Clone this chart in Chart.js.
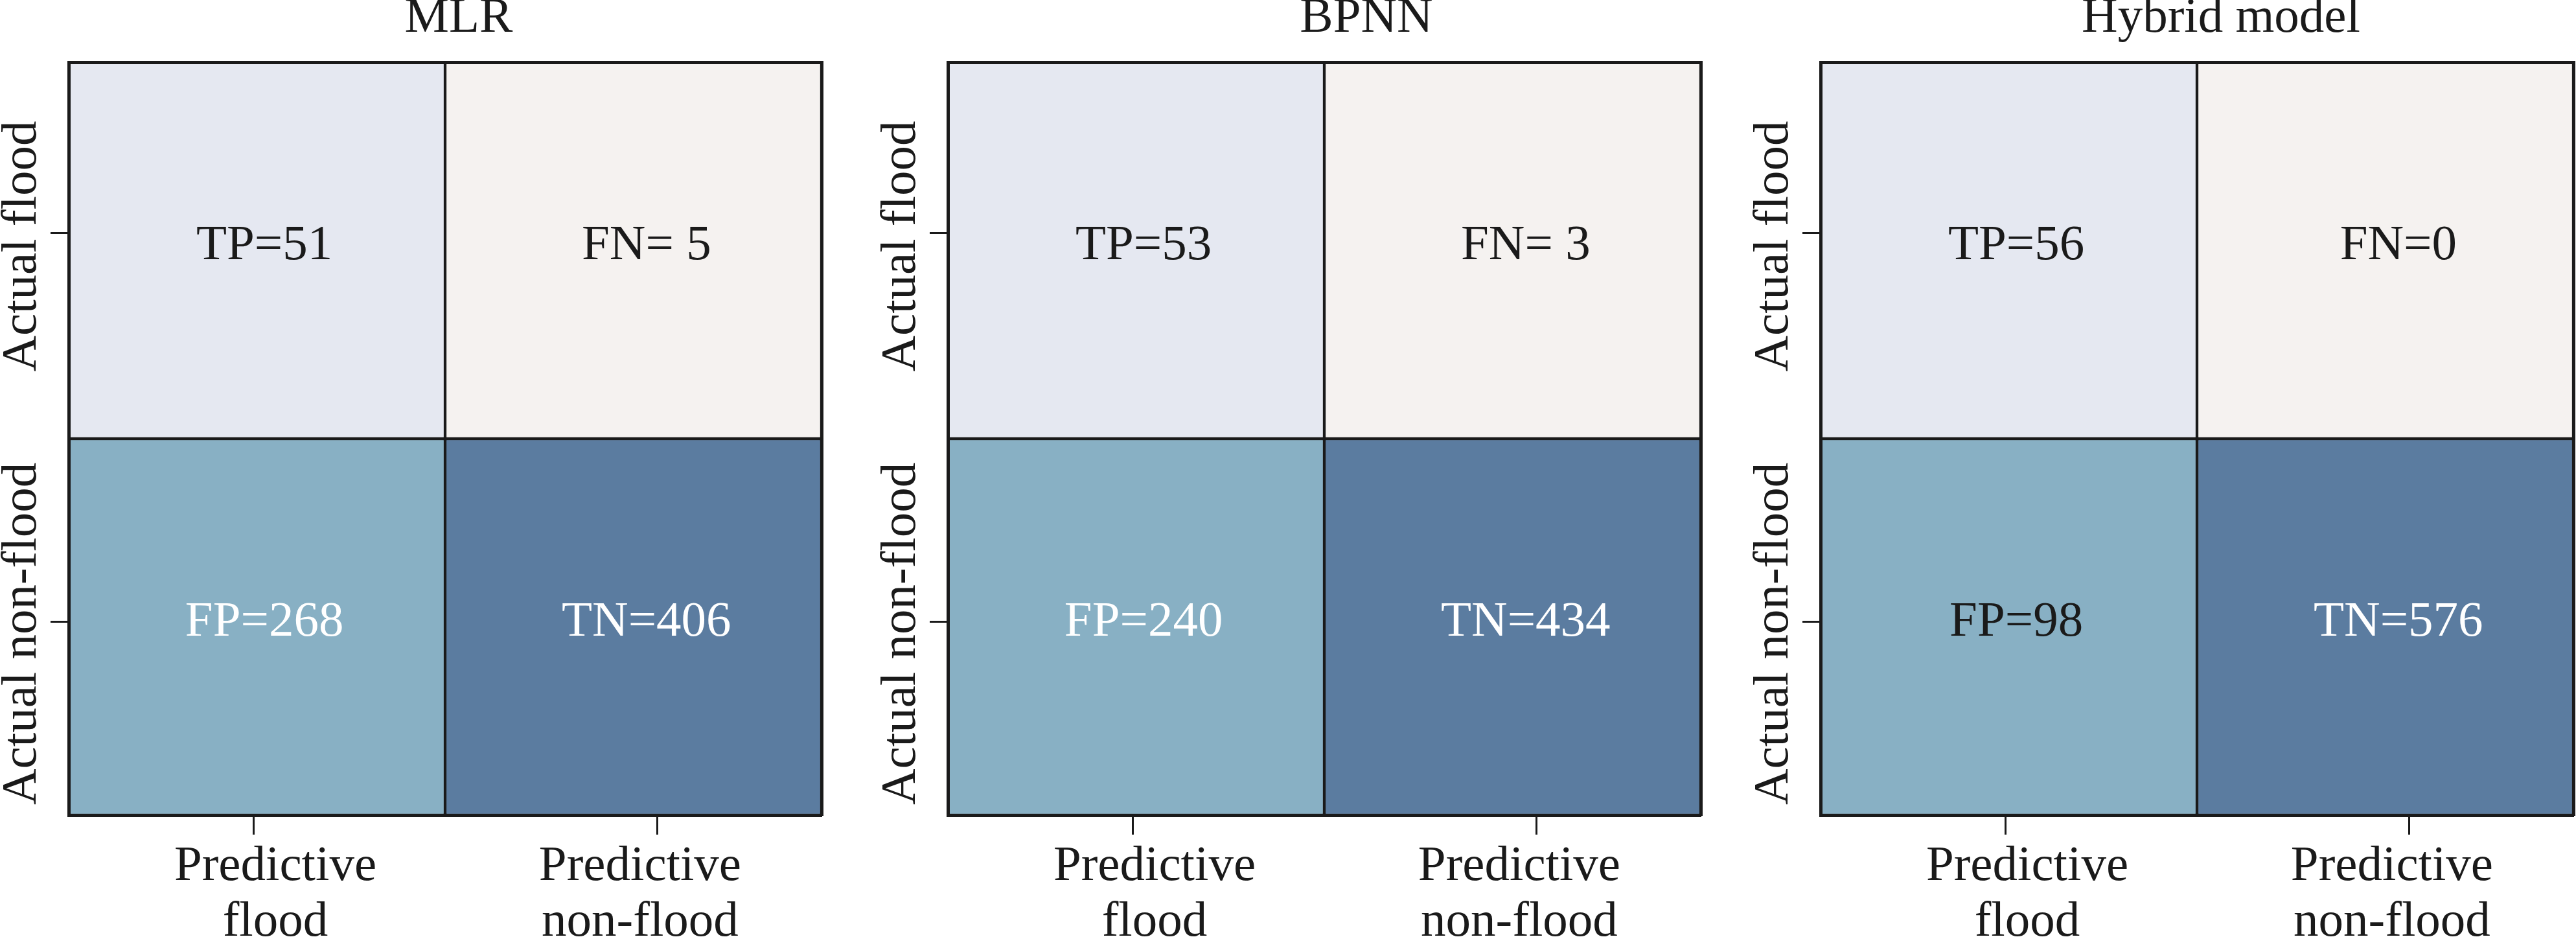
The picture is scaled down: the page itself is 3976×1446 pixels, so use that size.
<!DOCTYPE html>
<html>
<head>
<meta charset="utf-8">
<title>Confusion matrices</title>
<script src="https://cdn.jsdelivr.net/npm/chart.js@4.4.1/dist/chart.umd.min.js"></script>
<style>
  html, body { margin: 0; padding: 0; background: #fff; overflow: hidden; }
  #stage { position: relative; width: 3976px; height: 1446px; overflow: hidden; }
  #stage canvas { position: absolute; top: 0; }
</style>
</head>
<body>
<div id="stage"></div>
<script>
// Data
const models = ['MLR', 'BPNN', 'Hybrid model'];
const predictedLabels = [['Predictive', 'flood'], ['Predictive', 'non-flood']];
const actualLabels = ['Actual flood', 'Actual non-flood'];
const cellNames = ['TP', 'FN', 'FP', 'TN'];
const mlrCounts = [51, 5, 268, 406];
const bpnnCounts = [53, 3, 240, 434];
const hybridCounts = [56, 0, 98, 576];
const allCounts = [mlrCounts, bpnnCounts, hybridCounts];

// Look
const FONT = '"Liberation Serif", "Times New Roman", serif';
const FONT_SIZE = 77;
const INK = '#1a1a1a';
const cellColors = ['#E5E8F1', '#F5F2F0', '#88B0C4', '#5B7CA0'];
const textColors = [
    [INK, INK, '#ffffff', '#ffffff'],
    [INK, INK, '#ffffff', '#ffffff'],
    [INK, INK, INK, '#ffffff'],
];
const padSingle = [true, true, false];

// Layout: canvas placement on the page, axis positions in units 0..2
const panels = [
    { left: 0, width: 1416, axisLeft: 106, axisRight: 148 },
    { left: 1353, width: 1512, axisLeft: 110, axisRight: 240 },
    { left: 2700, width: 1456, axisLeft: 110, axisRight: 184 },
];
const xTickAt = [0.492, 1.564];
const yTickAt = [1.547, 0.514];
const xLabelAt = [0.549, 1.518];
const yLabelAt = [1.511, 0.482];
const cellTextX = [0.52, 1.535];
const cellTextY = [1.52, 0.52];

// Texts: cell counts, axis labels
const matrixText = {
    id: 'matrixText',
    afterDraw(chart, args, opts) {
        const { ctx, scales: { x, y } } = chart;
        const counts = allCounts[opts.panel];
        ctx.save();
        ctx.font = `${FONT_SIZE}px ${FONT}`;
        ctx.textAlign = 'center';
        ctx.textBaseline = 'alphabetic';

        cellNames.forEach((name, k) => {
            const r = Math.floor(k / 2), c = k % 2;
            const v = counts[k];
            const txt = name + '=' + (padSingle[opts.panel] && v < 10 ? ' ' + v : v);
            ctx.fillStyle = textColors[opts.panel][k];
            ctx.fillText(txt, x.getPixelForValue(cellTextX[c]), y.getPixelForValue(cellTextY[r]) + 25);
        });

        ctx.fillStyle = INK;
        predictedLabels.forEach((lines, c) => {
            lines.forEach((line, j) => {
                ctx.fillText(line, x.getPixelForValue(xLabelAt[c]), y.bottom + 100 + j * 86);
            });
        });

        actualLabels.forEach((label, r) => {
            ctx.save();
            ctx.translate(x.left - 51, y.getPixelForValue(yLabelAt[r]));
            ctx.rotate(-Math.PI / 2);
            ctx.fillText(label, 0, 0);
            ctx.restore();
        });
        ctx.restore();
    }
};

const tickGrid = len => ({
    display: true, offset: false, drawOnChartArea: false, drawTicks: true,
    tickLength: len, tickWidth: 3, tickColor: INK,
});
const frame = { display: true, width: 5, color: INK, z: 1 };

// Build one matrix
function drawPanel(model, i) {
    const p = panels[i];
    const canvas = document.createElement('canvas');
    canvas.width = p.width;
    canvas.height = 1446;
    canvas.style.left = p.left + 'px';
    document.getElementById('stage').appendChild(canvas);

    const rows = actualLabels.map((label, r) => ({
        label,
        data: predictedLabels.map((_, c) => ({
            x: c + 0.5,
            y: [actualLabels.length - 1 - r, actualLabels.length - r],
        })),
        backgroundColor: predictedLabels.map((_, c) => cellColors[r * 2 + c]),
        borderColor: INK,
        borderWidth: 2.5,
        borderSkipped: false,
        grouped: false,
        barPercentage: 1,
        categoryPercentage: 1,
    }));

    new Chart(canvas, {
        type: 'bar',
        data: { datasets: rows },
        plugins: [matrixText],
        options: {
            responsive: false,
            devicePixelRatio: 1,
            animation: false,
            events: [],
            layout: { padding: 0 },
            plugins: {
                legend: { display: false },
                tooltip: { enabled: false },
                title: {
                    display: true,
                    text: model,
                    color: INK,
                    font: { family: FONT, size: FONT_SIZE, weight: 'normal', lineHeight: 0.75 },
                    padding: 0,
                },
                matrixText: { panel: i },
            },
            scales: {
                x: {
                    type: 'linear', position: 'bottom', min: 0, max: 2, offset: false,
                    ticks: { display: false },
                    grid: tickGrid(30),
                    border: frame,
                    afterBuildTicks: s => { s.ticks = xTickAt.map(value => ({ value })); },
                    afterFit: s => { s.height = 188; },
                },
                y: {
                    type: 'linear', position: 'left', min: 0, max: 2,
                    ticks: { display: false },
                    grid: tickGrid(28),
                    border: frame,
                    afterBuildTicks: s => { s.ticks = yTickAt.map(value => ({ value })); },
                    afterFit: s => { s.width = p.axisLeft; },
                },
                x2: {
                    type: 'linear', position: 'top', min: 0, max: 2,
                    ticks: { display: false },
                    grid: { display: false },
                    border: frame,
                    afterFit: s => { s.height = 38.25; },
                },
                y2: {
                    type: 'linear', position: 'right', min: 0, max: 2,
                    ticks: { display: false },
                    grid: { display: false },
                    border: frame,
                    afterFit: s => { s.width = p.axisRight; },
                },
            },
        },
    });
}

// Initialize
document.addEventListener('DOMContentLoaded', () => {
    models.forEach(drawPanel);
});
</script>
</body>
</html>
